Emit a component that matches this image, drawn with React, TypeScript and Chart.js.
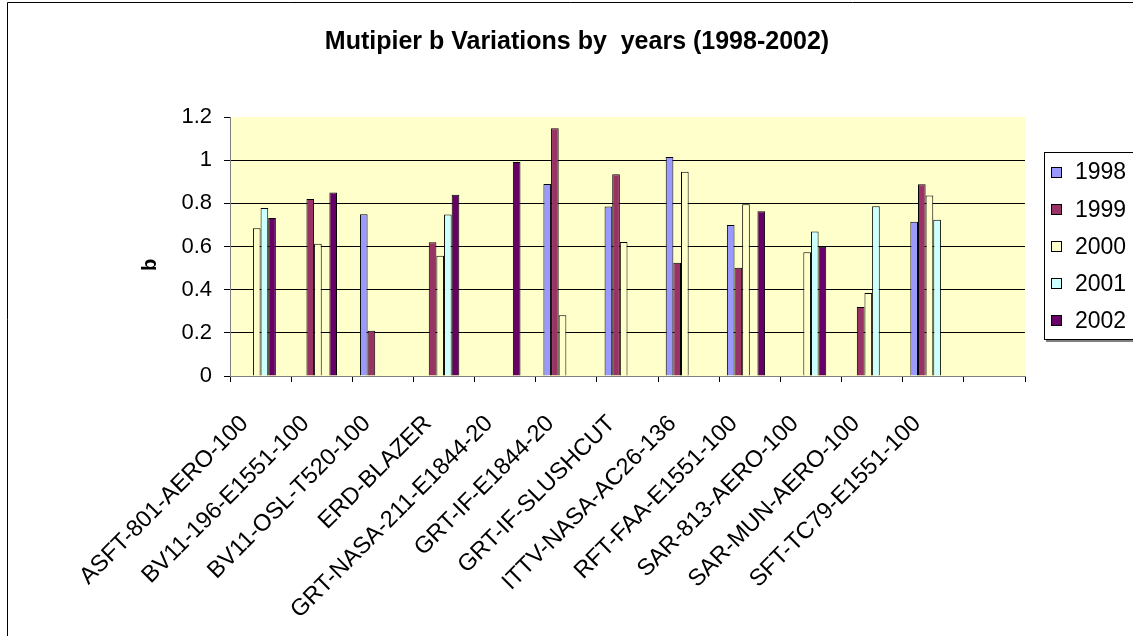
import React, { useEffect, useRef } from 'react';
import { Chart, registerables } from 'chart.js';

Chart.register(...registerables);

const FONT = "'Liberation Sans', Arial, Helvetica, sans-serif";

const chartTitle = 'Mutipier b Variations by  years (1998-2002)';
const yAxisTitle = 'b';

const categories = [
  'ASFT-801-AERO-100',
  'BV11-196-E1551-100',
  'BV11-OSL-T520-100',
  'ERD-BLAZER',
  'GRT-NASA-211-E1844-20',
  'GRT-IF-E1844-20',
  'GRT-IF-SLUSHCUT',
  'ITTV-NASA-AC26-136',
  'RFT-FAA-E1551-100',
  'SAR-813-AERO-100',
  'SAR-MUN-AERO-100',
  'SFT-TC79-E1551-100',
  '',
];

const seriesLabels = ['1998', '1999', '2000', '2001', '2002'];
const seriesColors = ['#9999FF', '#993366', '#FFFFCC', '#CCFFFF', '#660066'];

const b1998 = [null, null, 0.75, null, null, 0.89, 0.785, 1.015, 0.7, null, null, 0.715, null];
const b1999 = [null, 0.82, 0.21, 0.62, null, 1.148, 0.935, 0.525, 0.502, null, 0.32, 0.888, null];
const b2000 = [0.684, 0.613, null, 0.557, null, 0.282, 0.621, 0.946, 0.796, 0.573, 0.385, 0.836, null];
const b2001 = [0.778, null, null, 0.748, null, null, null, null, null, 0.669, 0.786, 0.724, null];
const b2002 = [0.732, 0.85, null, 0.84, 0.992, null, null, null, 0.763, 0.599, null, null, null];
// empty sixth slot in each group (Excel leaves room for an unused series)
const unusedSlot = [null, null, null, null, null, null, null, null, null, null, null, null, null];

const seriesValues = [b1998, b1999, b2000, b2001, b2002];

const yMin = 0;
const yMax = 1.2;
const yStep = 0.2;

const plotBackground = {
  id: 'plotBackground',
  beforeDraw(chart: any) {
    const { ctx, chartArea } = chart;
    ctx.save();
    ctx.fillStyle = '#FFFFCC';
    ctx.fillRect(chartArea.left, chartArea.top, chartArea.right - chartArea.left, chartArea.bottom - chartArea.top);
    ctx.restore();
  },
};

const decorations = {
  id: 'decorations',
  afterDraw(chart: any) {
    const { ctx, chartArea } = chart;
    ctx.save();
    // outer frame
    ctx.strokeStyle = '#000';
    ctx.lineWidth = 1;
    ctx.beginPath();
    ctx.moveTo(7.5, 700);
    ctx.lineTo(7.5, 2.5);
    ctx.lineTo(1200, 2.5);
    ctx.stroke();

    // title
    ctx.fillStyle = '#000';
    ctx.font = `bold 25px ${FONT}`;
    ctx.textAlign = 'center';
    ctx.textBaseline = 'alphabetic';
    ctx.fillText(chartTitle, 577, 49);

    // y axis title
    ctx.save();
    ctx.translate(150, 265);
    ctx.rotate(-Math.PI / 2);
    ctx.font = `bold 20px ${FONT}`;
    ctx.textAlign = 'center';
    ctx.textBaseline = 'middle';
    ctx.fillText(yAxisTitle, 0, 0);
    ctx.restore();

    // legend
    const items = chart.data.datasets.filter((d: any) => d.label);
    const spacing = 37.2;
    const center = (chartArea.top + chartArea.bottom) / 2;
    const boxTop = Math.round(center - ((items.length - 1) / 2) * spacing - 20);
    const boxBottom = Math.round(center + ((items.length - 1) / 2) * spacing + 18);
    ctx.fillStyle = '#FFFFFF';
    ctx.fillRect(1044.5, boxTop, 120, boxBottom - boxTop);
    ctx.fillStyle = '#808080';
    ctx.fillRect(1046, boxBottom + 1, 120, 2);
    ctx.strokeStyle = '#000';
    ctx.lineWidth = 1;
    ctx.strokeRect(1044.5, boxTop + 0.5, 120, boxBottom - boxTop);
    ctx.font = `23px ${FONT}`;
    ctx.textAlign = 'left';
    ctx.textBaseline = 'middle';
    items.forEach((d: any, i: number) => {
      const cy = center + (i - (items.length - 1) / 2) * spacing;
      ctx.fillStyle = d.backgroundColor;
      ctx.fillRect(1052, Math.round(cy - 4.5), 9, 9);
      ctx.strokeStyle = '#000';
      ctx.strokeRect(1051.5, Math.round(cy - 4.5) - 0.5, 10, 10);
      ctx.fillStyle = '#000';
      ctx.fillText(d.label, 1075, cy + 1);
    });
    ctx.restore();
  },
};

export default function App() {
  const canvasRef = useRef<HTMLCanvasElement | null>(null);

  useEffect(() => {
    if (!canvasRef.current) return;
    const datasets: any[] = seriesLabels.map((label, i) => ({
      label,
      data: seriesValues[i],
      backgroundColor: seriesColors[i],
      borderColor: '#000000',
      borderWidth: 1,
    }));
    datasets.push({
      label: '',
      data: unusedSlot,
      backgroundColor: 'transparent',
      borderColor: 'transparent',
      borderWidth: 0,
    });

    const chart = new Chart(canvasRef.current, {
      type: 'bar',
      data: { labels: categories, datasets },
      options: {
        responsive: false,
        animation: false,
        devicePixelRatio: 1,
        layout: { padding: { top: 117, right: 108, bottom: 0, left: 0 } },
        datasets: {
          bar: { categoryPercentage: 0.75, barPercentage: 1 },
        },
        plugins: {
          legend: { display: false },
          title: { display: false },
          tooltip: { enabled: false },
        },
        scales: {
          x: {
            afterFit: (scale: any) => {
              scale.height = 260;
            },
            grid: {
              offset: true,
              drawOnChartArea: false,
              drawTicks: true,
              tickLength: 6,
              tickColor: '#000000',
            },
            border: { display: true, color: '#808080', width: 1 },
            ticks: {
              autoSkip: false,
              minRotation: 45,
              maxRotation: 45,
              padding: 28,
              labelOffset: -16,
              color: '#000000',
              font: { family: FONT, size: 23.5 },
            },
          },
          y: {
            min: yMin,
            max: yMax,
            afterFit: (scale: any) => {
              scale.width = 230;
            },
            grid: {
              color: (c: any) => {
                const v = c.tick ? c.tick.value : 0;
                if (Math.abs(v - yMax) < 1e-6 || Math.abs(v) < 1e-6) return 'rgba(0,0,0,0)';
                return '#000000';
              },
              tickColor: '#000000',
              tickLength: 6,
              lineWidth: 1,
            },
            border: { display: true, color: '#808080', width: 1 },
            ticks: {
              stepSize: yStep,
              padding: 12,
              color: '#000000',
              font: { family: FONT, size: 22 },
              callback: (v: any) => String(Math.round(Number(v) * 10) / 10),
            },
          },
        },
      },
      plugins: [plotBackground, decorations],
    });
    return () => chart.destroy();
  }, []);

  return (
    <div style={{ position: 'fixed', left: 0, top: 0, width: 1133, height: 636, background: '#fff' }}>
      <canvas ref={canvasRef} width={1133} height={636} style={{ display: 'block', width: 1133, height: 636 }} />
    </div>
  );
}
